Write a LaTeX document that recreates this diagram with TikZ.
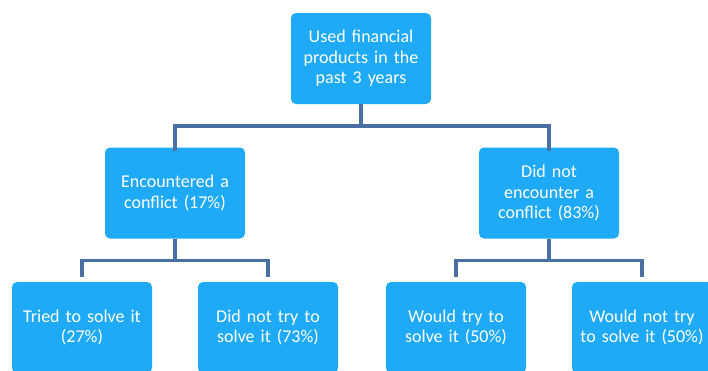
\documentclass[tikz,border=0pt]{standalone}
\usepackage{fontspec}
\setmainfont{Carlito}
\usetikzlibrary{positioning}

\definecolor{boxblue}{RGB}{31,170,247}
\definecolor{linkblue}{RGB}{74,111,163}

\begin{document}
\begin{tikzpicture}[x=1pt,y=1pt,node distance=134.5pt and 93pt,on grid,
    box/.style={rectangle, rounded corners=5pt, fill=boxblue, text=white,
        minimum width=140pt, minimum height=91pt, text width=136pt, align=center,
        inner sep=2pt, font=\fontsize{18}{20.5}\selectfont},
    link/.style={draw=linkblue, line width=3.5pt}]

    \useasboundingbox (0,0) rectangle (708,-370);

    \node[box] (used) at (361,-58.5) {Used financial\\products in the\\past 3 years};
    \node[box] (enc) [below left=134.5pt and 186pt of used] {Encountered a\\conflict (17\%)};
    \node[box] (noenc) [below right=134.5pt and 188pt of used] {Did not\\encounter a\\conflict (83\%)};
    \node[box] (tried) [below left=of enc] {Tried to solve it\\(27\%)};
    \node[box] (nottried) [below right=of enc] {Did not try to\\solve it (73\%)};
    \node[box] (would) [below left=of noenc] {Would try to\\solve it (50\%)};
    \node[box] (wouldnot) [below right=of noenc] {Would not try\\to solve it (50\%)};

    \draw[link] (used.south) -- ++(0,-22) coordinate (split0);
    \draw[link] (enc.north) ++(0,-4) |- (split0) -| ([yshift=-4pt]noenc.north);
    \draw[link] (enc.south) -- ++(0,-22) coordinate (split1);
    \draw[link] ([yshift=5pt]tried.north) |- (split1) -| ([yshift=5pt]nottried.north);
    \draw[link] (noenc.south) -- ++(0,-22) coordinate (split2);
    \draw[link] ([yshift=5pt]would.north) |- (split2) -| ([yshift=5pt]wouldnot.north);

\end{tikzpicture}
\end{document}
